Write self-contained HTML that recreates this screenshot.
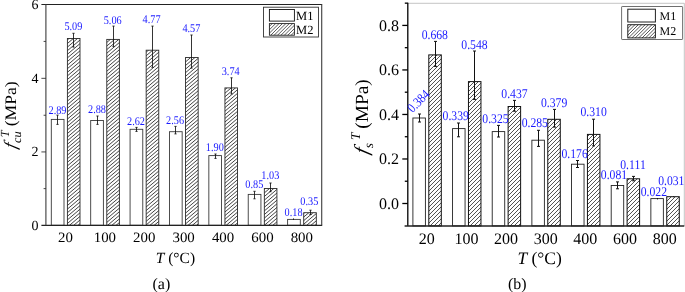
<!DOCTYPE html>
<html lang="en">
<head>
<meta charset="utf-8">
<title>Figure: f_cu^T and f_s^T versus temperature for M1 and M2</title>
<style>
html,body{margin:0;padding:0;background:#fff;}
body{width:685px;height:292px;overflow:hidden;}
svg{display:block;font-family:"Liberation Serif", "DejaVu Serif", serif;text-rendering:geometricPrecision;}
</style>
</head>
<body>
<svg width="685" height="292" viewBox="0 0 685 292">

<rect x="0" y="0" width="685" height="292" fill="#fff"/>
<g id="chart-a">
<rect x="51.3" y="119.4" width="12.7" height="105.9" fill="#fff" stroke="#3a3a3a" stroke-width="0.9"/>
<rect x="90.69" y="120.5" width="12.7" height="104.8" fill="#fff" stroke="#3a3a3a" stroke-width="0.9"/>
<rect x="130.07" y="129.3" width="12.7" height="96" fill="#fff" stroke="#3a3a3a" stroke-width="0.9"/>
<rect x="169.46" y="131.7" width="12.7" height="93.6" fill="#fff" stroke="#3a3a3a" stroke-width="0.9"/>
<rect x="208.84" y="155.6" width="12.7" height="69.7" fill="#fff" stroke="#3a3a3a" stroke-width="0.9"/>
<rect x="248.23" y="194.4" width="12.7" height="30.9" fill="#fff" stroke="#3a3a3a" stroke-width="0.9"/>
<rect x="287.61" y="219.4" width="12.7" height="5.9" fill="#fff" stroke="#3a3a3a" stroke-width="0.9"/>
<clipPath id="c1"><rect x="67.4" y="38.5" width="12.6" height="186.8"/></clipPath>
<rect x="67.4" y="38.5" width="12.6" height="186.8" fill="#fff"/>
<path d="M66.4,37.16L81,24.75M66.4,40.76L81,28.35M66.4,44.36L81,31.95M66.4,47.96L81,35.55M66.4,51.56L81,39.15M66.4,55.16L81,42.75M66.4,58.76L81,46.35M66.4,62.36L81,49.95M66.4,65.96L81,53.55M66.4,69.56L81,57.15M66.4,73.16L81,60.75M66.4,76.76L81,64.35M66.4,80.36L81,67.95M66.4,83.96L81,71.55M66.4,87.56L81,75.15M66.4,91.16L81,78.75M66.4,94.76L81,82.35M66.4,98.36L81,85.95M66.4,101.96L81,89.55M66.4,105.56L81,93.15M66.4,109.16L81,96.75M66.4,112.76L81,100.35M66.4,116.36L81,103.95M66.4,119.96L81,107.55M66.4,123.56L81,111.15M66.4,127.16L81,114.75M66.4,130.76L81,118.35M66.4,134.36L81,121.95M66.4,137.96L81,125.55M66.4,141.56L81,129.15M66.4,145.16L81,132.75M66.4,148.76L81,136.35M66.4,152.36L81,139.95M66.4,155.96L81,143.55M66.4,159.56L81,147.15M66.4,163.16L81,150.75M66.4,166.76L81,154.35M66.4,170.36L81,157.95M66.4,173.96L81,161.55M66.4,177.56L81,165.15M66.4,181.16L81,168.75M66.4,184.76L81,172.35M66.4,188.36L81,175.95M66.4,191.96L81,179.55M66.4,195.56L81,183.15M66.4,199.16L81,186.75M66.4,202.76L81,190.35M66.4,206.36L81,193.95M66.4,209.96L81,197.55M66.4,213.56L81,201.15M66.4,217.16L81,204.75M66.4,220.76L81,208.35M66.4,224.36L81,211.95M66.4,227.96L81,215.55M66.4,231.56L81,219.15M66.4,235.16L81,222.75M66.4,238.76L81,226.35" stroke="#3a3a3a" stroke-width="0.95" fill="none" clip-path="url(#c1)"/>
<rect x="67.4" y="38.5" width="12.6" height="186.8" fill="none" stroke="#2a2a2a" stroke-width="0.9"/>
<clipPath id="c2"><rect x="106.79" y="39.4" width="12.6" height="185.9"/></clipPath>
<rect x="106.79" y="39.4" width="12.6" height="185.9" fill="#fff"/>
<path d="M105.79,39.68L120.39,27.27M105.79,43.28L120.39,30.87M105.79,46.88L120.39,34.47M105.79,50.48L120.39,38.07M105.79,54.08L120.39,41.67M105.79,57.68L120.39,45.27M105.79,61.28L120.39,48.87M105.79,64.88L120.39,52.47M105.79,68.48L120.39,56.07M105.79,72.08L120.39,59.67M105.79,75.68L120.39,63.27M105.79,79.28L120.39,66.87M105.79,82.88L120.39,70.47M105.79,86.48L120.39,74.07M105.79,90.08L120.39,77.67M105.79,93.68L120.39,81.27M105.79,97.28L120.39,84.87M105.79,100.88L120.39,88.47M105.79,104.48L120.39,92.07M105.79,108.08L120.39,95.67M105.79,111.68L120.39,99.27M105.79,115.28L120.39,102.87M105.79,118.88L120.39,106.47M105.79,122.48L120.39,110.07M105.79,126.08L120.39,113.67M105.79,129.68L120.39,117.27M105.79,133.28L120.39,120.87M105.79,136.88L120.39,124.47M105.79,140.48L120.39,128.07M105.79,144.08L120.39,131.67M105.79,147.68L120.39,135.27M105.79,151.28L120.39,138.87M105.79,154.88L120.39,142.47M105.79,158.48L120.39,146.07M105.79,162.08L120.39,149.67M105.79,165.68L120.39,153.27M105.79,169.28L120.39,156.87M105.79,172.88L120.39,160.47M105.79,176.48L120.39,164.07M105.79,180.08L120.39,167.67M105.79,183.68L120.39,171.27M105.79,187.28L120.39,174.87M105.79,190.88L120.39,178.47M105.79,194.48L120.39,182.07M105.79,198.08L120.39,185.67M105.79,201.68L120.39,189.27M105.79,205.28L120.39,192.87M105.79,208.88L120.39,196.47M105.79,212.48L120.39,200.07M105.79,216.08L120.39,203.67M105.79,219.68L120.39,207.27M105.79,223.28L120.39,210.87M105.79,226.88L120.39,214.47M105.79,230.48L120.39,218.07M105.79,234.08L120.39,221.67M105.79,237.68L120.39,225.27" stroke="#3a3a3a" stroke-width="0.95" fill="none" clip-path="url(#c2)"/>
<rect x="106.79" y="39.4" width="12.6" height="185.9" fill="none" stroke="#2a2a2a" stroke-width="0.9"/>
<clipPath id="c3"><rect x="146.17" y="50.2" width="12.6" height="175.1"/></clipPath>
<rect x="146.17" y="50.2" width="12.6" height="175.1" fill="#fff"/>
<path d="M145.17,49.4L159.77,36.99M145.17,53L159.77,40.59M145.17,56.6L159.77,44.19M145.17,60.2L159.77,47.79M145.17,63.8L159.77,51.39M145.17,67.4L159.77,54.99M145.17,71L159.77,58.59M145.17,74.6L159.77,62.19M145.17,78.2L159.77,65.79M145.17,81.8L159.77,69.39M145.17,85.4L159.77,72.99M145.17,89L159.77,76.59M145.17,92.6L159.77,80.19M145.17,96.2L159.77,83.79M145.17,99.8L159.77,87.39M145.17,103.4L159.77,90.99M145.17,107L159.77,94.59M145.17,110.6L159.77,98.19M145.17,114.2L159.77,101.79M145.17,117.8L159.77,105.39M145.17,121.4L159.77,108.99M145.17,125L159.77,112.59M145.17,128.6L159.77,116.19M145.17,132.2L159.77,119.79M145.17,135.8L159.77,123.39M145.17,139.4L159.77,126.99M145.17,143L159.77,130.59M145.17,146.6L159.77,134.19M145.17,150.2L159.77,137.79M145.17,153.8L159.77,141.39M145.17,157.4L159.77,144.99M145.17,161L159.77,148.59M145.17,164.6L159.77,152.19M145.17,168.2L159.77,155.79M145.17,171.8L159.77,159.39M145.17,175.4L159.77,162.99M145.17,179L159.77,166.59M145.17,182.6L159.77,170.19M145.17,186.2L159.77,173.79M145.17,189.8L159.77,177.39M145.17,193.4L159.77,180.99M145.17,197L159.77,184.59M145.17,200.6L159.77,188.19M145.17,204.2L159.77,191.79M145.17,207.8L159.77,195.39M145.17,211.4L159.77,198.99M145.17,215L159.77,202.59M145.17,218.6L159.77,206.19M145.17,222.2L159.77,209.79M145.17,225.8L159.77,213.39M145.17,229.4L159.77,216.99M145.17,233L159.77,220.59M145.17,236.6L159.77,224.19M145.17,240.2L159.77,227.79" stroke="#3a3a3a" stroke-width="0.95" fill="none" clip-path="url(#c3)"/>
<rect x="146.17" y="50.2" width="12.6" height="175.1" fill="none" stroke="#2a2a2a" stroke-width="0.9"/>
<clipPath id="c4"><rect x="185.56" y="57.5" width="12.6" height="167.8"/></clipPath>
<rect x="185.56" y="57.5" width="12.6" height="167.8" fill="#fff"/>
<path d="M184.56,55.53L199.16,43.12M184.56,59.13L199.16,46.72M184.56,62.73L199.16,50.32M184.56,66.33L199.16,53.92M184.56,69.93L199.16,57.52M184.56,73.53L199.16,61.12M184.56,77.13L199.16,64.72M184.56,80.73L199.16,68.32M184.56,84.33L199.16,71.92M184.56,87.93L199.16,75.52M184.56,91.53L199.16,79.12M184.56,95.13L199.16,82.72M184.56,98.73L199.16,86.32M184.56,102.33L199.16,89.92M184.56,105.93L199.16,93.52M184.56,109.53L199.16,97.12M184.56,113.13L199.16,100.72M184.56,116.73L199.16,104.32M184.56,120.33L199.16,107.92M184.56,123.93L199.16,111.52M184.56,127.53L199.16,115.12M184.56,131.13L199.16,118.72M184.56,134.73L199.16,122.32M184.56,138.33L199.16,125.92M184.56,141.93L199.16,129.52M184.56,145.53L199.16,133.12M184.56,149.13L199.16,136.72M184.56,152.73L199.16,140.32M184.56,156.33L199.16,143.92M184.56,159.93L199.16,147.52M184.56,163.53L199.16,151.12M184.56,167.13L199.16,154.72M184.56,170.73L199.16,158.32M184.56,174.33L199.16,161.92M184.56,177.93L199.16,165.52M184.56,181.53L199.16,169.12M184.56,185.13L199.16,172.72M184.56,188.73L199.16,176.32M184.56,192.33L199.16,179.92M184.56,195.93L199.16,183.52M184.56,199.53L199.16,187.12M184.56,203.13L199.16,190.72M184.56,206.73L199.16,194.32M184.56,210.33L199.16,197.92M184.56,213.93L199.16,201.52M184.56,217.53L199.16,205.12M184.56,221.13L199.16,208.72M184.56,224.73L199.16,212.32M184.56,228.33L199.16,215.92M184.56,231.93L199.16,219.52M184.56,235.53L199.16,223.12M184.56,239.13L199.16,226.72" stroke="#3a3a3a" stroke-width="0.95" fill="none" clip-path="url(#c4)"/>
<rect x="185.56" y="57.5" width="12.6" height="167.8" fill="none" stroke="#2a2a2a" stroke-width="0.9"/>
<clipPath id="c5"><rect x="224.94" y="87.9" width="12.6" height="137.4"/></clipPath>
<rect x="224.94" y="87.9" width="12.6" height="137.4" fill="#fff"/>
<path d="M223.94,86.85L238.54,74.44M223.94,90.45L238.54,78.04M223.94,94.05L238.54,81.64M223.94,97.65L238.54,85.24M223.94,101.25L238.54,88.84M223.94,104.85L238.54,92.44M223.94,108.45L238.54,96.04M223.94,112.05L238.54,99.64M223.94,115.65L238.54,103.24M223.94,119.25L238.54,106.84M223.94,122.85L238.54,110.44M223.94,126.45L238.54,114.04M223.94,130.05L238.54,117.64M223.94,133.65L238.54,121.24M223.94,137.25L238.54,124.84M223.94,140.85L238.54,128.44M223.94,144.45L238.54,132.04M223.94,148.05L238.54,135.64M223.94,151.65L238.54,139.24M223.94,155.25L238.54,142.84M223.94,158.85L238.54,146.44M223.94,162.45L238.54,150.04M223.94,166.05L238.54,153.64M223.94,169.65L238.54,157.24M223.94,173.25L238.54,160.84M223.94,176.85L238.54,164.44M223.94,180.45L238.54,168.04M223.94,184.05L238.54,171.64M223.94,187.65L238.54,175.24M223.94,191.25L238.54,178.84M223.94,194.85L238.54,182.44M223.94,198.45L238.54,186.04M223.94,202.05L238.54,189.64M223.94,205.65L238.54,193.24M223.94,209.25L238.54,196.84M223.94,212.85L238.54,200.44M223.94,216.45L238.54,204.04M223.94,220.05L238.54,207.64M223.94,223.65L238.54,211.24M223.94,227.25L238.54,214.84M223.94,230.85L238.54,218.44M223.94,234.45L238.54,222.04M223.94,238.05L238.54,225.64" stroke="#3a3a3a" stroke-width="0.95" fill="none" clip-path="url(#c5)"/>
<rect x="224.94" y="87.9" width="12.6" height="137.4" fill="none" stroke="#2a2a2a" stroke-width="0.9"/>
<clipPath id="c6"><rect x="264.33" y="188.5" width="12.6" height="36.8"/></clipPath>
<rect x="264.33" y="188.5" width="12.6" height="36.8" fill="#fff"/>
<path d="M263.33,186.57L277.93,174.16M263.33,190.17L277.93,177.76M263.33,193.77L277.93,181.36M263.33,197.37L277.93,184.96M263.33,200.97L277.93,188.56M263.33,204.57L277.93,192.16M263.33,208.17L277.93,195.76M263.33,211.77L277.93,199.36M263.33,215.37L277.93,202.96M263.33,218.97L277.93,206.56M263.33,222.57L277.93,210.16M263.33,226.17L277.93,213.76M263.33,229.77L277.93,217.36M263.33,233.37L277.93,220.96M263.33,236.97L277.93,224.56" stroke="#3a3a3a" stroke-width="0.95" fill="none" clip-path="url(#c6)"/>
<rect x="264.33" y="188.5" width="12.6" height="36.8" fill="none" stroke="#2a2a2a" stroke-width="0.9"/>
<clipPath id="c7"><rect x="303.71" y="212.7" width="12.6" height="12.6"/></clipPath>
<rect x="303.71" y="212.7" width="12.6" height="12.6" fill="#fff"/>
<path d="M302.71,210.69L317.31,198.28M302.71,214.29L317.31,201.88M302.71,217.89L317.31,205.48M302.71,221.49L317.31,209.08M302.71,225.09L317.31,212.68M302.71,228.69L317.31,216.28M302.71,232.29L317.31,219.88M302.71,235.89L317.31,223.48M302.71,239.49L317.31,227.08" stroke="#3a3a3a" stroke-width="0.95" fill="none" clip-path="url(#c7)"/>
<rect x="303.71" y="212.7" width="12.6" height="12.6" fill="none" stroke="#2a2a2a" stroke-width="0.9"/>
<line x1="57.5" y1="115.1" x2="57.5" y2="124.4" stroke="#111" stroke-width="0.85" />
<line x1="56.4" y1="115.1" x2="58.6" y2="115.1" stroke="#111" stroke-width="0.85" />
<line x1="56.4" y1="124.4" x2="58.6" y2="124.4" stroke="#111" stroke-width="0.85" />
<line x1="97.5" y1="116" x2="97.5" y2="124.4" stroke="#111" stroke-width="0.85" />
<line x1="96.4" y1="116" x2="98.6" y2="116" stroke="#111" stroke-width="0.85" />
<line x1="96.4" y1="124.4" x2="98.6" y2="124.4" stroke="#111" stroke-width="0.85" />
<line x1="136.5" y1="127.4" x2="136.5" y2="131.4" stroke="#111" stroke-width="0.85" />
<line x1="135.4" y1="127.4" x2="137.6" y2="127.4" stroke="#111" stroke-width="0.85" />
<line x1="135.4" y1="131.4" x2="137.6" y2="131.4" stroke="#111" stroke-width="0.85" />
<line x1="175.5" y1="126.4" x2="175.5" y2="133.9" stroke="#111" stroke-width="0.85" />
<line x1="174.4" y1="126.4" x2="176.6" y2="126.4" stroke="#111" stroke-width="0.85" />
<line x1="174.4" y1="133.9" x2="176.6" y2="133.9" stroke="#111" stroke-width="0.85" />
<line x1="215.5" y1="154" x2="215.5" y2="158.4" stroke="#111" stroke-width="0.85" />
<line x1="214.4" y1="154" x2="216.6" y2="154" stroke="#111" stroke-width="0.85" />
<line x1="214.4" y1="158.4" x2="216.6" y2="158.4" stroke="#111" stroke-width="0.85" />
<line x1="254.5" y1="191.3" x2="254.5" y2="198.8" stroke="#111" stroke-width="0.85" />
<line x1="253.4" y1="191.3" x2="255.6" y2="191.3" stroke="#111" stroke-width="0.85" />
<line x1="253.4" y1="198.8" x2="255.6" y2="198.8" stroke="#111" stroke-width="0.85" />
<line x1="293.5" y1="218.4" x2="293.5" y2="220" stroke="#111" stroke-width="0.85" />
<line x1="73.5" y1="33.3" x2="73.5" y2="47.1" stroke="#111" stroke-width="0.85" />
<line x1="72.4" y1="33.3" x2="74.6" y2="33.3" stroke="#111" stroke-width="0.85" />
<line x1="72.4" y1="47.1" x2="74.6" y2="47.1" stroke="#111" stroke-width="0.85" />
<line x1="113.5" y1="26.1" x2="113.5" y2="46.4" stroke="#111" stroke-width="0.85" />
<line x1="112.4" y1="26.1" x2="114.6" y2="26.1" stroke="#111" stroke-width="0.85" />
<line x1="112.4" y1="46.4" x2="114.6" y2="46.4" stroke="#111" stroke-width="0.85" />
<line x1="152.5" y1="26.1" x2="152.5" y2="67.3" stroke="#111" stroke-width="0.85" />
<line x1="151.4" y1="26.1" x2="153.6" y2="26.1" stroke="#111" stroke-width="0.85" />
<line x1="151.4" y1="67.3" x2="153.6" y2="67.3" stroke="#111" stroke-width="0.85" />
<line x1="191.5" y1="35" x2="191.5" y2="68.1" stroke="#111" stroke-width="0.85" />
<line x1="190.4" y1="35" x2="192.6" y2="35" stroke="#111" stroke-width="0.85" />
<line x1="190.4" y1="68.1" x2="192.6" y2="68.1" stroke="#111" stroke-width="0.85" />
<line x1="231.5" y1="77.8" x2="231.5" y2="93.9" stroke="#111" stroke-width="0.85" />
<line x1="230.4" y1="77.8" x2="232.6" y2="77.8" stroke="#111" stroke-width="0.85" />
<line x1="230.4" y1="93.9" x2="232.6" y2="93.9" stroke="#111" stroke-width="0.85" />
<line x1="270.5" y1="183" x2="270.5" y2="191.7" stroke="#111" stroke-width="0.85" />
<line x1="269.4" y1="183" x2="271.6" y2="183" stroke="#111" stroke-width="0.85" />
<line x1="269.4" y1="191.7" x2="271.6" y2="191.7" stroke="#111" stroke-width="0.85" />
<line x1="310.5" y1="210.2" x2="310.5" y2="214.5" stroke="#111" stroke-width="0.85" />
<line x1="309.4" y1="210.2" x2="311.6" y2="210.2" stroke="#111" stroke-width="0.85" />
<line x1="309.4" y1="214.5" x2="311.6" y2="214.5" stroke="#111" stroke-width="0.85" />
<line x1="41.4" y1="4.5" x2="322.2" y2="4.5" stroke="#222" stroke-width="1" />
<line x1="41.4" y1="225.4" x2="322.2" y2="225.4" stroke="#222" stroke-width="1.15" />
<line x1="45.9" y1="4.5" x2="45.9" y2="225.3" stroke="#444" stroke-width="1.15" />
<line x1="321.7" y1="4.5" x2="321.7" y2="225.3" stroke="#444" stroke-width="1.15" />
<line x1="41.4" y1="151.93" x2="46" y2="151.93" stroke="#333" stroke-width="0.9" />
<line x1="41.4" y1="78.33" x2="46" y2="78.33" stroke="#333" stroke-width="0.9" />
<text x="38.6" y="229.8" font-size="14" text-anchor="end" fill="#000">0</text>
<text x="38.6" y="156.43" font-size="14" text-anchor="end" fill="#000">2</text>
<text x="38.6" y="82.83" font-size="14" text-anchor="end" fill="#000">4</text>
<text x="38.6" y="9" font-size="14" text-anchor="end" fill="#000">6</text>
<line x1="43.6" y1="188.62" x2="46" y2="188.62" stroke="#333" stroke-width="0.9" />
<line x1="43.6" y1="115.25" x2="46" y2="115.25" stroke="#333" stroke-width="0.9" />
<line x1="43.6" y1="41.42" x2="46" y2="41.42" stroke="#333" stroke-width="0.9" />
<text x="0" y="0" font-size="14.3" text-anchor="middle" fill="#000" transform="translate(65.49,242.1) scale(1.04,1)">20</text>
<text x="0" y="0" font-size="14.3" text-anchor="middle" fill="#000" transform="translate(104.88,242.1) scale(1.04,1)">100</text>
<text x="0" y="0" font-size="14.3" text-anchor="middle" fill="#000" transform="translate(144.26,242.1) scale(1.04,1)">200</text>
<text x="0" y="0" font-size="14.3" text-anchor="middle" fill="#000" transform="translate(183.65,242.1) scale(1.04,1)">300</text>
<text x="0" y="0" font-size="14.3" text-anchor="middle" fill="#000" transform="translate(223.04,242.1) scale(1.04,1)">400</text>
<text x="0" y="0" font-size="14.3" text-anchor="middle" fill="#000" transform="translate(262.42,242.1) scale(1.04,1)">600</text>
<text x="0" y="0" font-size="14.3" text-anchor="middle" fill="#000" transform="translate(301.81,242.1) scale(1.04,1)">800</text>
<text x="0" y="0" font-size="11.8" text-anchor="middle" fill="#1a1aff" transform="translate(57.5,113.5) scale(0.87,1)">2.89</text>
<text x="0" y="0" font-size="11.8" text-anchor="middle" fill="#1a1aff" transform="translate(97,113.1) scale(0.87,1)">2.88</text>
<text x="0" y="0" font-size="11.8" text-anchor="middle" fill="#1a1aff" transform="translate(136,125) scale(0.87,1)">2.62</text>
<text x="0" y="0" font-size="11.8" text-anchor="middle" fill="#1a1aff" transform="translate(175.1,124) scale(0.87,1)">2.56</text>
<text x="0" y="0" font-size="11.8" text-anchor="middle" fill="#1a1aff" transform="translate(214.8,151.4) scale(0.87,1)">1.90</text>
<text x="0" y="0" font-size="11.8" text-anchor="middle" fill="#1a1aff" transform="translate(254.3,188.1) scale(0.87,1)">0.85</text>
<text x="0" y="0" font-size="11.8" text-anchor="middle" fill="#1a1aff" transform="translate(293.6,215.6) scale(0.87,1)">0.18</text>
<text x="0" y="0" font-size="11.8" text-anchor="middle" fill="#1a1aff" transform="translate(73.4,29.9) scale(0.87,1)">5.09</text>
<text x="0" y="0" font-size="11.8" text-anchor="middle" fill="#1a1aff" transform="translate(112.7,24.3) scale(0.87,1)">5.06</text>
<text x="0" y="0" font-size="11.8" text-anchor="middle" fill="#1a1aff" transform="translate(151.6,23.3) scale(0.87,1)">4.77</text>
<text x="0" y="0" font-size="11.8" text-anchor="middle" fill="#1a1aff" transform="translate(191.4,31.6) scale(0.87,1)">4.57</text>
<text x="0" y="0" font-size="11.8" text-anchor="middle" fill="#1a1aff" transform="translate(230.7,75.2) scale(0.87,1)">3.74</text>
<text x="0" y="0" font-size="11.8" text-anchor="middle" fill="#1a1aff" transform="translate(270.3,178.8) scale(0.87,1)">1.03</text>
<text x="0" y="0" font-size="11.8" text-anchor="middle" fill="#1a1aff" transform="translate(309.3,205.2) scale(0.87,1)">0.35</text>
<text x="175.4" y="262.8" font-size="15.5" text-anchor="middle"><tspan font-style="italic">T</tspan> (°C)</text>
<text x="161.4" y="288.7" font-size="16" text-anchor="middle" fill="#000">(a)</text>
<g transform="translate(16.3,150.5) rotate(-90)"><text font-size="17.5" font-style="italic" transform="translate(1.2,0) skewX(-14)">f</text><text x="7.6" y="4.5" font-size="12.4" font-style="italic">cu</text><text x="13.2" y="-7.3" font-size="12.4" font-style="italic">T</text><text font-size="16" transform="translate(24.2,0) scale(1.1,1)">(MPa)</text></g>
<rect x="263.5" y="7.2" width="55" height="29.8" fill="#fff" stroke="#333" stroke-width="0.9"/>
<rect x="269.4" y="9.5" width="25" height="11.6" fill="#fff" stroke="#111" stroke-width="0.9"/>
<clipPath id="c8"><rect x="269.4" y="23.6" width="25" height="11.6"/></clipPath>
<rect x="269.4" y="23.6" width="25" height="11.6" fill="#fff"/>
<path d="M268.4,24L295.4,-3M268.4,27.4L295.4,0.4M268.4,30.8L295.4,3.8M268.4,34.2L295.4,7.2M268.4,37.6L295.4,10.6M268.4,41L295.4,14M268.4,44.4L295.4,17.4M268.4,47.8L295.4,20.8M268.4,51.2L295.4,24.2M268.4,54.6L295.4,27.6M268.4,58L295.4,31M268.4,61.4L295.4,34.4" stroke="#333" stroke-width="0.8" fill="none" clip-path="url(#c8)"/>
<rect x="269.4" y="23.6" width="25" height="11.6" fill="none" stroke="#222" stroke-width="0.9"/>
<text x="296.1" y="19.6" font-size="12.5" text-anchor="start" fill="#000">M1</text>
<text x="296.1" y="33.8" font-size="12.5" text-anchor="start" fill="#000">M2</text>
</g>
<g id="chart-b">
<rect x="412.9" y="118" width="12.5" height="107.9" fill="#fff" stroke="#222" stroke-width="0.9"/>
<rect x="452.56" y="128.6" width="12.5" height="97.3" fill="#fff" stroke="#222" stroke-width="0.9"/>
<rect x="492.22" y="131.6" width="12.5" height="94.3" fill="#fff" stroke="#222" stroke-width="0.9"/>
<rect x="531.88" y="140.2" width="12.5" height="85.7" fill="#fff" stroke="#222" stroke-width="0.9"/>
<rect x="571.54" y="164.2" width="12.5" height="61.7" fill="#fff" stroke="#222" stroke-width="0.9"/>
<rect x="611.2" y="185.5" width="12.5" height="40.4" fill="#fff" stroke="#222" stroke-width="0.9"/>
<rect x="650.86" y="198.6" width="12.5" height="27.3" fill="#fff" stroke="#222" stroke-width="0.9"/>
<clipPath id="c9"><rect x="428.8" y="54.9" width="12.5" height="171"/></clipPath>
<rect x="428.8" y="54.9" width="12.5" height="171" fill="#fff"/>
<path d="M427.8,52.2L442.3,37.7M427.8,56.2L442.3,41.7M427.8,60.2L442.3,45.7M427.8,64.2L442.3,49.7M427.8,68.2L442.3,53.7M427.8,72.2L442.3,57.7M427.8,76.2L442.3,61.7M427.8,80.2L442.3,65.7M427.8,84.2L442.3,69.7M427.8,88.2L442.3,73.7M427.8,92.2L442.3,77.7M427.8,96.2L442.3,81.7M427.8,100.2L442.3,85.7M427.8,104.2L442.3,89.7M427.8,108.2L442.3,93.7M427.8,112.2L442.3,97.7M427.8,116.2L442.3,101.7M427.8,120.2L442.3,105.7M427.8,124.2L442.3,109.7M427.8,128.2L442.3,113.7M427.8,132.2L442.3,117.7M427.8,136.2L442.3,121.7M427.8,140.2L442.3,125.7M427.8,144.2L442.3,129.7M427.8,148.2L442.3,133.7M427.8,152.2L442.3,137.7M427.8,156.2L442.3,141.7M427.8,160.2L442.3,145.7M427.8,164.2L442.3,149.7M427.8,168.2L442.3,153.7M427.8,172.2L442.3,157.7M427.8,176.2L442.3,161.7M427.8,180.2L442.3,165.7M427.8,184.2L442.3,169.7M427.8,188.2L442.3,173.7M427.8,192.2L442.3,177.7M427.8,196.2L442.3,181.7M427.8,200.2L442.3,185.7M427.8,204.2L442.3,189.7M427.8,208.2L442.3,193.7M427.8,212.2L442.3,197.7M427.8,216.2L442.3,201.7M427.8,220.2L442.3,205.7M427.8,224.2L442.3,209.7M427.8,228.2L442.3,213.7M427.8,232.2L442.3,217.7M427.8,236.2L442.3,221.7M427.8,240.2L442.3,225.7" stroke="#333" stroke-width="0.85" fill="none" clip-path="url(#c9)"/>
<rect x="428.8" y="54.9" width="12.5" height="171" fill="none" stroke="#111" stroke-width="1"/>
<clipPath id="c10"><rect x="468.46" y="81.6" width="12.5" height="144.3"/></clipPath>
<rect x="468.46" y="81.6" width="12.5" height="144.3" fill="#fff"/>
<path d="M467.46,80.54L481.96,66.04M467.46,84.54L481.96,70.04M467.46,88.54L481.96,74.04M467.46,92.54L481.96,78.04M467.46,96.54L481.96,82.04M467.46,100.54L481.96,86.04M467.46,104.54L481.96,90.04M467.46,108.54L481.96,94.04M467.46,112.54L481.96,98.04M467.46,116.54L481.96,102.04M467.46,120.54L481.96,106.04M467.46,124.54L481.96,110.04M467.46,128.54L481.96,114.04M467.46,132.54L481.96,118.04M467.46,136.54L481.96,122.04M467.46,140.54L481.96,126.04M467.46,144.54L481.96,130.04M467.46,148.54L481.96,134.04M467.46,152.54L481.96,138.04M467.46,156.54L481.96,142.04M467.46,160.54L481.96,146.04M467.46,164.54L481.96,150.04M467.46,168.54L481.96,154.04M467.46,172.54L481.96,158.04M467.46,176.54L481.96,162.04M467.46,180.54L481.96,166.04M467.46,184.54L481.96,170.04M467.46,188.54L481.96,174.04M467.46,192.54L481.96,178.04M467.46,196.54L481.96,182.04M467.46,200.54L481.96,186.04M467.46,204.54L481.96,190.04M467.46,208.54L481.96,194.04M467.46,212.54L481.96,198.04M467.46,216.54L481.96,202.04M467.46,220.54L481.96,206.04M467.46,224.54L481.96,210.04M467.46,228.54L481.96,214.04M467.46,232.54L481.96,218.04M467.46,236.54L481.96,222.04M467.46,240.54L481.96,226.04" stroke="#333" stroke-width="0.85" fill="none" clip-path="url(#c10)"/>
<rect x="468.46" y="81.6" width="12.5" height="144.3" fill="none" stroke="#111" stroke-width="1"/>
<clipPath id="c11"><rect x="508.12" y="106.5" width="12.5" height="119.4"/></clipPath>
<rect x="508.12" y="106.5" width="12.5" height="119.4" fill="#fff"/>
<path d="M507.12,104.88L521.62,90.38M507.12,108.88L521.62,94.38M507.12,112.88L521.62,98.38M507.12,116.88L521.62,102.38M507.12,120.88L521.62,106.38M507.12,124.88L521.62,110.38M507.12,128.88L521.62,114.38M507.12,132.88L521.62,118.38M507.12,136.88L521.62,122.38M507.12,140.88L521.62,126.38M507.12,144.88L521.62,130.38M507.12,148.88L521.62,134.38M507.12,152.88L521.62,138.38M507.12,156.88L521.62,142.38M507.12,160.88L521.62,146.38M507.12,164.88L521.62,150.38M507.12,168.88L521.62,154.38M507.12,172.88L521.62,158.38M507.12,176.88L521.62,162.38M507.12,180.88L521.62,166.38M507.12,184.88L521.62,170.38M507.12,188.88L521.62,174.38M507.12,192.88L521.62,178.38M507.12,196.88L521.62,182.38M507.12,200.88L521.62,186.38M507.12,204.88L521.62,190.38M507.12,208.88L521.62,194.38M507.12,212.88L521.62,198.38M507.12,216.88L521.62,202.38M507.12,220.88L521.62,206.38M507.12,224.88L521.62,210.38M507.12,228.88L521.62,214.38M507.12,232.88L521.62,218.38M507.12,236.88L521.62,222.38M507.12,240.88L521.62,226.38" stroke="#333" stroke-width="0.85" fill="none" clip-path="url(#c11)"/>
<rect x="508.12" y="106.5" width="12.5" height="119.4" fill="none" stroke="#111" stroke-width="1"/>
<clipPath id="c12"><rect x="547.78" y="119.3" width="12.5" height="106.6"/></clipPath>
<rect x="547.78" y="119.3" width="12.5" height="106.6" fill="#fff"/>
<path d="M546.78,117.22L561.28,102.72M546.78,121.22L561.28,106.72M546.78,125.22L561.28,110.72M546.78,129.22L561.28,114.72M546.78,133.22L561.28,118.72M546.78,137.22L561.28,122.72M546.78,141.22L561.28,126.72M546.78,145.22L561.28,130.72M546.78,149.22L561.28,134.72M546.78,153.22L561.28,138.72M546.78,157.22L561.28,142.72M546.78,161.22L561.28,146.72M546.78,165.22L561.28,150.72M546.78,169.22L561.28,154.72M546.78,173.22L561.28,158.72M546.78,177.22L561.28,162.72M546.78,181.22L561.28,166.72M546.78,185.22L561.28,170.72M546.78,189.22L561.28,174.72M546.78,193.22L561.28,178.72M546.78,197.22L561.28,182.72M546.78,201.22L561.28,186.72M546.78,205.22L561.28,190.72M546.78,209.22L561.28,194.72M546.78,213.22L561.28,198.72M546.78,217.22L561.28,202.72M546.78,221.22L561.28,206.72M546.78,225.22L561.28,210.72M546.78,229.22L561.28,214.72M546.78,233.22L561.28,218.72M546.78,237.22L561.28,222.72M546.78,241.22L561.28,226.72" stroke="#333" stroke-width="0.85" fill="none" clip-path="url(#c12)"/>
<rect x="547.78" y="119.3" width="12.5" height="106.6" fill="none" stroke="#111" stroke-width="1"/>
<clipPath id="c13"><rect x="587.44" y="134.4" width="12.5" height="91.5"/></clipPath>
<rect x="587.44" y="134.4" width="12.5" height="91.5" fill="#fff"/>
<path d="M586.44,133.56L600.94,119.06M586.44,137.56L600.94,123.06M586.44,141.56L600.94,127.06M586.44,145.56L600.94,131.06M586.44,149.56L600.94,135.06M586.44,153.56L600.94,139.06M586.44,157.56L600.94,143.06M586.44,161.56L600.94,147.06M586.44,165.56L600.94,151.06M586.44,169.56L600.94,155.06M586.44,173.56L600.94,159.06M586.44,177.56L600.94,163.06M586.44,181.56L600.94,167.06M586.44,185.56L600.94,171.06M586.44,189.56L600.94,175.06M586.44,193.56L600.94,179.06M586.44,197.56L600.94,183.06M586.44,201.56L600.94,187.06M586.44,205.56L600.94,191.06M586.44,209.56L600.94,195.06M586.44,213.56L600.94,199.06M586.44,217.56L600.94,203.06M586.44,221.56L600.94,207.06M586.44,225.56L600.94,211.06M586.44,229.56L600.94,215.06M586.44,233.56L600.94,219.06M586.44,237.56L600.94,223.06M586.44,241.56L600.94,227.06" stroke="#333" stroke-width="0.85" fill="none" clip-path="url(#c13)"/>
<rect x="587.44" y="134.4" width="12.5" height="91.5" fill="none" stroke="#111" stroke-width="1"/>
<clipPath id="c14"><rect x="627.1" y="178.8" width="12.5" height="47.1"/></clipPath>
<rect x="627.1" y="178.8" width="12.5" height="47.1" fill="#fff"/>
<path d="M626.1,177.9L640.6,163.4M626.1,181.9L640.6,167.4M626.1,185.9L640.6,171.4M626.1,189.9L640.6,175.4M626.1,193.9L640.6,179.4M626.1,197.9L640.6,183.4M626.1,201.9L640.6,187.4M626.1,205.9L640.6,191.4M626.1,209.9L640.6,195.4M626.1,213.9L640.6,199.4M626.1,217.9L640.6,203.4M626.1,221.9L640.6,207.4M626.1,225.9L640.6,211.4M626.1,229.9L640.6,215.4M626.1,233.9L640.6,219.4M626.1,237.9L640.6,223.4M626.1,241.9L640.6,227.4" stroke="#333" stroke-width="0.85" fill="none" clip-path="url(#c14)"/>
<rect x="627.1" y="178.8" width="12.5" height="47.1" fill="none" stroke="#111" stroke-width="1"/>
<clipPath id="c15"><rect x="666.76" y="196.7" width="12.5" height="29.2"/></clipPath>
<rect x="666.76" y="196.7" width="12.5" height="29.2" fill="#fff"/>
<path d="M665.76,194.24L680.26,179.74M665.76,198.24L680.26,183.74M665.76,202.24L680.26,187.74M665.76,206.24L680.26,191.74M665.76,210.24L680.26,195.74M665.76,214.24L680.26,199.74M665.76,218.24L680.26,203.74M665.76,222.24L680.26,207.74M665.76,226.24L680.26,211.74M665.76,230.24L680.26,215.74M665.76,234.24L680.26,219.74M665.76,238.24L680.26,223.74M665.76,242.24L680.26,227.74" stroke="#333" stroke-width="0.85" fill="none" clip-path="url(#c15)"/>
<rect x="666.76" y="196.7" width="12.5" height="29.2" fill="none" stroke="#111" stroke-width="1"/>
<line x1="419.5" y1="114" x2="419.5" y2="122" stroke="#111" stroke-width="1.0" />
<line x1="418" y1="114" x2="421" y2="114" stroke="#111" stroke-width="1.0" />
<line x1="418" y1="122" x2="421" y2="122" stroke="#111" stroke-width="1.0" />
<line x1="458.5" y1="123" x2="458.5" y2="136.8" stroke="#111" stroke-width="1.0" />
<line x1="457" y1="123" x2="460" y2="123" stroke="#111" stroke-width="1.0" />
<line x1="457" y1="136.8" x2="460" y2="136.8" stroke="#111" stroke-width="1.0" />
<line x1="498.5" y1="125.4" x2="498.5" y2="137" stroke="#111" stroke-width="1.0" />
<line x1="497" y1="125.4" x2="500" y2="125.4" stroke="#111" stroke-width="1.0" />
<line x1="497" y1="137" x2="500" y2="137" stroke="#111" stroke-width="1.0" />
<line x1="538.5" y1="130.3" x2="538.5" y2="146.4" stroke="#111" stroke-width="1.0" />
<line x1="537" y1="130.3" x2="540" y2="130.3" stroke="#111" stroke-width="1.0" />
<line x1="537" y1="146.4" x2="540" y2="146.4" stroke="#111" stroke-width="1.0" />
<line x1="577.5" y1="160.5" x2="577.5" y2="167.5" stroke="#111" stroke-width="1.0" />
<line x1="576" y1="160.5" x2="579" y2="160.5" stroke="#111" stroke-width="1.0" />
<line x1="576" y1="167.5" x2="579" y2="167.5" stroke="#111" stroke-width="1.0" />
<line x1="617.5" y1="181.9" x2="617.5" y2="188.8" stroke="#111" stroke-width="1.0" />
<line x1="616" y1="181.9" x2="619" y2="181.9" stroke="#111" stroke-width="1.0" />
<line x1="616" y1="188.8" x2="619" y2="188.8" stroke="#111" stroke-width="1.0" />
<line x1="657.5" y1="198" x2="657.5" y2="199.4" stroke="#111" stroke-width="1.0" />
<line x1="435.5" y1="41.4" x2="435.5" y2="66.4" stroke="#111" stroke-width="1.0" />
<line x1="434" y1="41.4" x2="437" y2="41.4" stroke="#111" stroke-width="1.0" />
<line x1="434" y1="66.4" x2="437" y2="66.4" stroke="#111" stroke-width="1.0" />
<line x1="474.5" y1="51" x2="474.5" y2="99.4" stroke="#111" stroke-width="1.0" />
<line x1="473" y1="51" x2="476" y2="51" stroke="#111" stroke-width="1.0" />
<line x1="473" y1="99.4" x2="476" y2="99.4" stroke="#111" stroke-width="1.0" />
<line x1="514.5" y1="100.4" x2="514.5" y2="111.2" stroke="#111" stroke-width="1.0" />
<line x1="513" y1="100.4" x2="516" y2="100.4" stroke="#111" stroke-width="1.0" />
<line x1="513" y1="111.2" x2="516" y2="111.2" stroke="#111" stroke-width="1.0" />
<line x1="554.5" y1="109.4" x2="554.5" y2="127.1" stroke="#111" stroke-width="1.0" />
<line x1="553" y1="109.4" x2="556" y2="109.4" stroke="#111" stroke-width="1.0" />
<line x1="553" y1="127.1" x2="556" y2="127.1" stroke="#111" stroke-width="1.0" />
<line x1="593.5" y1="119.2" x2="593.5" y2="145.9" stroke="#111" stroke-width="1.0" />
<line x1="592" y1="119.2" x2="595" y2="119.2" stroke="#111" stroke-width="1.0" />
<line x1="592" y1="145.9" x2="595" y2="145.9" stroke="#111" stroke-width="1.0" />
<line x1="633.5" y1="176.4" x2="633.5" y2="180.8" stroke="#111" stroke-width="1.0" />
<line x1="632" y1="176.4" x2="635" y2="176.4" stroke="#111" stroke-width="1.0" />
<line x1="632" y1="180.8" x2="635" y2="180.8" stroke="#111" stroke-width="1.0" />
<line x1="673.5" y1="196.3" x2="673.5" y2="197.2" stroke="#111" stroke-width="1.0" />
<line x1="407.8" y1="3.3" x2="684.3" y2="3.3" stroke="#b5b5b5" stroke-width="0.8" />
<line x1="684.3" y1="3.3" x2="684.3" y2="225.9" stroke="#b5b5b5" stroke-width="0.8" />
<line x1="407.8" y1="2.7" x2="407.8" y2="225.9" stroke="#000" stroke-width="1.3" />
<line x1="404.6" y1="225.9" x2="684.3" y2="225.9" stroke="#222" stroke-width="1.5" />
<line x1="402.3" y1="203.5" x2="407.8" y2="203.5" stroke="#000" stroke-width="1.3" />
<text x="398.9" y="208.9" font-size="16" text-anchor="end" fill="#000">0.0</text>
<line x1="402.3" y1="158.98" x2="407.8" y2="158.98" stroke="#000" stroke-width="1.3" />
<text x="398.9" y="164.38" font-size="16" text-anchor="end" fill="#000">0.2</text>
<line x1="402.3" y1="114.46" x2="407.8" y2="114.46" stroke="#000" stroke-width="1.3" />
<text x="398.9" y="119.86" font-size="16" text-anchor="end" fill="#000">0.4</text>
<line x1="402.3" y1="69.94" x2="407.8" y2="69.94" stroke="#000" stroke-width="1.3" />
<text x="398.9" y="75.34" font-size="16" text-anchor="end" fill="#000">0.6</text>
<line x1="402.3" y1="25.42" x2="407.8" y2="25.42" stroke="#000" stroke-width="1.3" />
<text x="398.9" y="30.82" font-size="16" text-anchor="end" fill="#000">0.8</text>
<line x1="404.8" y1="181.24" x2="407.8" y2="181.24" stroke="#000" stroke-width="1.3" />
<line x1="404.8" y1="136.72" x2="407.8" y2="136.72" stroke="#000" stroke-width="1.3" />
<line x1="404.8" y1="92.2" x2="407.8" y2="92.2" stroke="#000" stroke-width="1.3" />
<line x1="404.8" y1="47.68" x2="407.8" y2="47.68" stroke="#000" stroke-width="1.3" />
<line x1="404.8" y1="3.16" x2="407.8" y2="3.16" stroke="#000" stroke-width="1.3" />
<text x="426.73" y="243.8" font-size="16" text-anchor="middle" fill="#000">20</text>
<text x="466.39" y="243.8" font-size="16" text-anchor="middle" fill="#000">100</text>
<text x="506.05" y="243.8" font-size="16" text-anchor="middle" fill="#000">200</text>
<text x="545.71" y="243.8" font-size="16" text-anchor="middle" fill="#000">300</text>
<text x="585.37" y="243.8" font-size="16" text-anchor="middle" fill="#000">400</text>
<text x="625.03" y="243.8" font-size="16" text-anchor="middle" fill="#000">600</text>
<text x="664.69" y="243.8" font-size="16" text-anchor="middle" fill="#000">800</text>
<text x="0" y="0" font-size="13.5" fill="#1a1aff" transform="translate(412.4,113.3) rotate(-45) scale(0.84,1)">0.384</text>
<text x="0" y="0" font-size="13.3" text-anchor="middle" fill="#1a1aff" transform="translate(455.7,119.8) scale(0.88,1)">0.339</text>
<text x="0" y="0" font-size="13.3" text-anchor="middle" fill="#1a1aff" transform="translate(495.5,122.9) scale(0.88,1)">0.325</text>
<text x="0" y="0" font-size="13.3" text-anchor="middle" fill="#1a1aff" transform="translate(534.8,127.4) scale(0.88,1)">0.285</text>
<text x="0" y="0" font-size="13.3" text-anchor="middle" fill="#1a1aff" transform="translate(574.6,157.8) scale(0.88,1)">0.176</text>
<text x="0" y="0" font-size="13.3" text-anchor="middle" fill="#1a1aff" transform="translate(614,179.1) scale(0.88,1)">0.081</text>
<text x="0" y="0" font-size="13.3" text-anchor="middle" fill="#1a1aff" transform="translate(653.9,195.5) scale(0.88,1)">0.022</text>
<text x="0" y="0" font-size="13.3" text-anchor="middle" fill="#1a1aff" transform="translate(434.8,39.3) scale(0.88,1)">0.668</text>
<text x="0" y="0" font-size="13.3" text-anchor="middle" fill="#1a1aff" transform="translate(474.5,48.5) scale(0.88,1)">0.548</text>
<text x="0" y="0" font-size="13.3" text-anchor="middle" fill="#1a1aff" transform="translate(514.5,97.6) scale(0.88,1)">0.437</text>
<text x="0" y="0" font-size="13.3" text-anchor="middle" fill="#1a1aff" transform="translate(554.1,107.2) scale(0.88,1)">0.379</text>
<text x="0" y="0" font-size="13.3" text-anchor="middle" fill="#1a1aff" transform="translate(593.6,116.1) scale(0.88,1)">0.310</text>
<text x="0" y="0" font-size="13.3" text-anchor="middle" fill="#1a1aff" transform="translate(633,169.3) scale(0.88,1)">0.111</text>
<text x="0" y="0" font-size="13.3" text-anchor="middle" fill="#1a1aff" transform="translate(671.3,184.9) scale(0.88,1)">0.031</text>
<text x="539.6" y="264" font-size="17.5" text-anchor="middle"><tspan font-style="italic">T</tspan> (°C)</text>
<text x="517.2" y="288.7" font-size="15.9" text-anchor="middle" fill="#000">(b)</text>
<g transform="translate(367.9,156.3) rotate(-90)"><text font-size="20" font-style="italic" transform="translate(1.4,0) skewX(-14)">f</text><text x="8.0" y="5.1" font-size="13.3" font-style="italic">s</text><text x="16.3" y="-7.7" font-size="13.3" font-style="italic">T</text><text font-size="18.5" transform="translate(27.5,0) scale(1.05,1)">(MPa)</text></g>
<rect x="621.6" y="6.5" width="61" height="33" rx="0.6" fill="#fff" stroke="#555" stroke-width="0.85"/>
<rect x="627.8" y="9.2" width="27.6" height="12.8" fill="#fff" stroke="#222" stroke-width="1"/>
<clipPath id="c16"><rect x="627.8" y="24.7" width="27.6" height="13.2"/></clipPath>
<rect x="627.8" y="24.7" width="27.6" height="13.2" fill="#fff"/>
<path d="M626.8,22.6L656.4,-7M626.8,26L656.4,-3.6M626.8,29.4L656.4,-0.2M626.8,32.8L656.4,3.2M626.8,36.2L656.4,6.6M626.8,39.6L656.4,10M626.8,43L656.4,13.4M626.8,46.4L656.4,16.8M626.8,49.8L656.4,20.2M626.8,53.2L656.4,23.6M626.8,56.6L656.4,27M626.8,60L656.4,30.4M626.8,63.4L656.4,33.8M626.8,66.8L656.4,37.2" stroke="#222" stroke-width="0.75" fill="none" clip-path="url(#c16)"/>
<rect x="627.8" y="24.7" width="27.6" height="13.2" fill="none" stroke="#222" stroke-width="1"/>
<text x="659.5" y="19.5" font-size="12" text-anchor="start" fill="#000">M1</text>
<text x="659.5" y="35" font-size="12" text-anchor="start" fill="#000">M2</text>
</g>
</svg>
</body>
</html>
